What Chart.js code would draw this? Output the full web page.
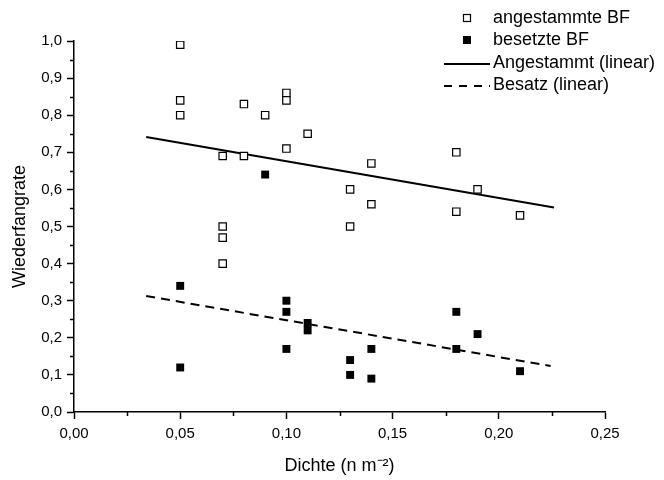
<!DOCTYPE html>
<html>
<head>
<meta charset="utf-8">
<script src="https://cdn.jsdelivr.net/npm/chart.js@4.4.1/dist/chart.umd.min.js"></script>
<style>
  html, body { margin: 0; padding: 0; background: #fff; }
  #wrap { width: 664px; height: 480px; }
</style>
</head>
<body>
<div id="wrap"><canvas id="myChart" width="664" height="480"></canvas></div>
<script>
// angestammte BF (open squares)
const angX = [0.05, 0.05, 0.05, 0.07, 0.07, 0.07, 0.07, 0.08, 0.08, 0.09, 0.10, 0.10, 0.10, 0.11, 0.13, 0.13, 0.14, 0.14, 0.18, 0.18, 0.19, 0.21];
const angY = [0.99, 0.84, 0.80, 0.69, 0.50, 0.47, 0.40, 0.83, 0.69, 0.80, 0.86, 0.84, 0.71, 0.75, 0.60, 0.50, 0.67, 0.56, 0.70, 0.54, 0.60, 0.53];
// besetzte BF (filled squares)
const besX = [0.05, 0.05, 0.09, 0.10, 0.10, 0.10, 0.11, 0.11, 0.13, 0.13, 0.14, 0.14, 0.18, 0.18, 0.19, 0.21];
const besY = [0.34, 0.12, 0.64, 0.30, 0.27, 0.17, 0.24, 0.22, 0.14, 0.10, 0.17, 0.09, 0.27, 0.17, 0.21, 0.11];
// linear fits (end points)
const angFitX = [0.034, 0.226];
const angFitY = [0.741, 0.551];
const besFitX = [0.034, 0.2244];
const besFitY = [0.3127, 0.124];

const xTickLabels = ['0,00', '0,05', '0,10', '0,15', '0,20', '0,25'];
const yTickLabels = ['0,0', '0,1', '0,2', '0,3', '0,4', '0,5', '0,6', '0,7', '0,8', '0,9', '1,0'];
const legendLabels = ['angestammte BF', 'besetzte BF', 'Angestammt (linear)', 'Besatz (linear)'];

const FONT = "'Liberation Sans', Arial, sans-serif";
const toPts = (xs, ys) => xs.map((x, i) => ({ x: x, y: ys[i] }));

// short minor ticks between the labelled ones
const minorTicks = {
    id: 'minorTicks',
    afterDraw(chart) {
        const ctx = chart.ctx;
        const xs = chart.scales.x, ys = chart.scales.y;
        ctx.save();
        ctx.strokeStyle = '#000';
        ctx.lineWidth = 1.5;
        ctx.beginPath();
        for (let v = 0.025; v < 0.25; v += 0.05) {
            const px = Math.round(xs.getPixelForValue(v)) + 0.5;
            ctx.moveTo(px, ys.bottom);
            ctx.lineTo(px, ys.bottom + 4);
        }
        for (let v = 0.05; v < 1; v += 0.1) {
            const py = Math.round(ys.getPixelForValue(v)) + 0.5;
            ctx.moveTo(xs.left, py);
            ctx.lineTo(xs.left - 4, py);
        }
        ctx.stroke();
        ctx.restore();
    }
};

// legend in the top right corner, drawn like the original
const legendBox = {
    id: 'legendBox',
    afterDraw(chart) {
        const ctx = chart.ctx;
        const rows = [18, 40, 63, 85];
        ctx.save();
        ctx.font = '18px ' + FONT;
        ctx.fillStyle = '#000';
        ctx.textBaseline = 'middle';
        ctx.textAlign = 'left';
        // open square
        ctx.strokeStyle = '#000';
        ctx.lineWidth = 1.2;
        ctx.strokeRect(463.5, rows[0] - 3.5, 7, 7);
        // filled square
        ctx.fillRect(463, rows[1] - 4, 8, 8);
        // solid line
        ctx.lineWidth = 2;
        ctx.beginPath();
        ctx.moveTo(444, rows[2] + 1);
        ctx.lineTo(490, rows[2] + 1);
        ctx.stroke();
        // dashed line
        ctx.setLineDash([8, 7]);
        ctx.beginPath();
        ctx.moveTo(444, rows[3] + 1);
        ctx.lineTo(490, rows[3] + 1);
        ctx.stroke();
        ctx.setLineDash([]);
        legendLabels.forEach((t, i) => {
            ctx.fillText(t, 493, rows[i]);
        });
        ctx.restore();
    }
};

const config = {
    type: 'scatter',
    data: {
        datasets: [
            {
                label: legendLabels[0],
                data: toPts(angX, angY),
                pointStyle: 'rect',
                pointRadius: 5.2,
                pointHoverRadius: 5.2,
                backgroundColor: '#fff',
                borderColor: '#000',
                borderWidth: 1.2
            },
            {
                label: legendLabels[1],
                data: toPts(besX, besY),
                pointStyle: 'rect',
                pointRadius: 5.6,
                pointHoverRadius: 5.6,
                backgroundColor: '#000',
                borderColor: '#000',
                borderWidth: 0
            },
            {
                label: legendLabels[2],
                data: toPts(angFitX, angFitY),
                showLine: true,
                pointRadius: 0,
                borderColor: '#000',
                borderWidth: 2,
                fill: false
            },
            {
                label: legendLabels[3],
                data: toPts(besFitX, besFitY),
                showLine: true,
                pointRadius: 0,
                borderColor: '#000',
                borderWidth: 2,
                borderDash: [9, 6],
                fill: false
            }
        ]
    },
    options: {
        responsive: false,
        animation: false,
        layout: { padding: { top: 41, right: 59, left: 0, bottom: 0 } },
        plugins: {
            legend: { display: false },
            tooltip: { enabled: false }
        },
        scales: {
            x: {
                type: 'linear',
                min: 0,
                max: 0.25,
                afterFit: (s) => { s.height = 68; },
                border: { display: true, color: '#000', width: 1.5 },
                grid: { drawOnChartArea: false, drawTicks: true, tickLength: 7, tickColor: '#000', tickWidth: 1.5 },
                ticks: {
                    stepSize: 0.05,
                    color: '#000',
                    padding: 6,
                    maxRotation: 0,
                    font: { family: FONT, size: 15 },
                    callback: (v, i) => xTickLabels[i]
                },
                title: {
                    display: true,
                    text: 'Dichte (n m⁻²)',
                    color: '#000',
                    padding: { top: 0, bottom: 3 },
                    font: { family: FONT, size: 18 }
                }
            },
            y: {
                type: 'linear',
                min: 0,
                max: 1,
                afterFit: (s) => { s.width = 74; },
                border: { display: true, color: '#000', width: 1.5 },
                grid: { drawOnChartArea: false, drawTicks: true, tickLength: 7, tickColor: '#000', tickWidth: 1.5 },
                ticks: {
                    stepSize: 0.1,
                    color: '#000',
                    padding: 5,
                    font: { family: FONT, size: 15 },
                    callback: (v, i) => yTickLabels[i]
                },
                title: {
                    display: true,
                    text: 'Wiederfangrate',
                    color: '#000',
                    padding: { top: 9, bottom: 0 },
                    font: { family: FONT, size: 18 }
                }
            }
        }
    },
    plugins: [minorTicks, legendBox]
};

const myChart = new Chart(document.querySelector('#myChart'), config);
</script>
</body>
</html>
